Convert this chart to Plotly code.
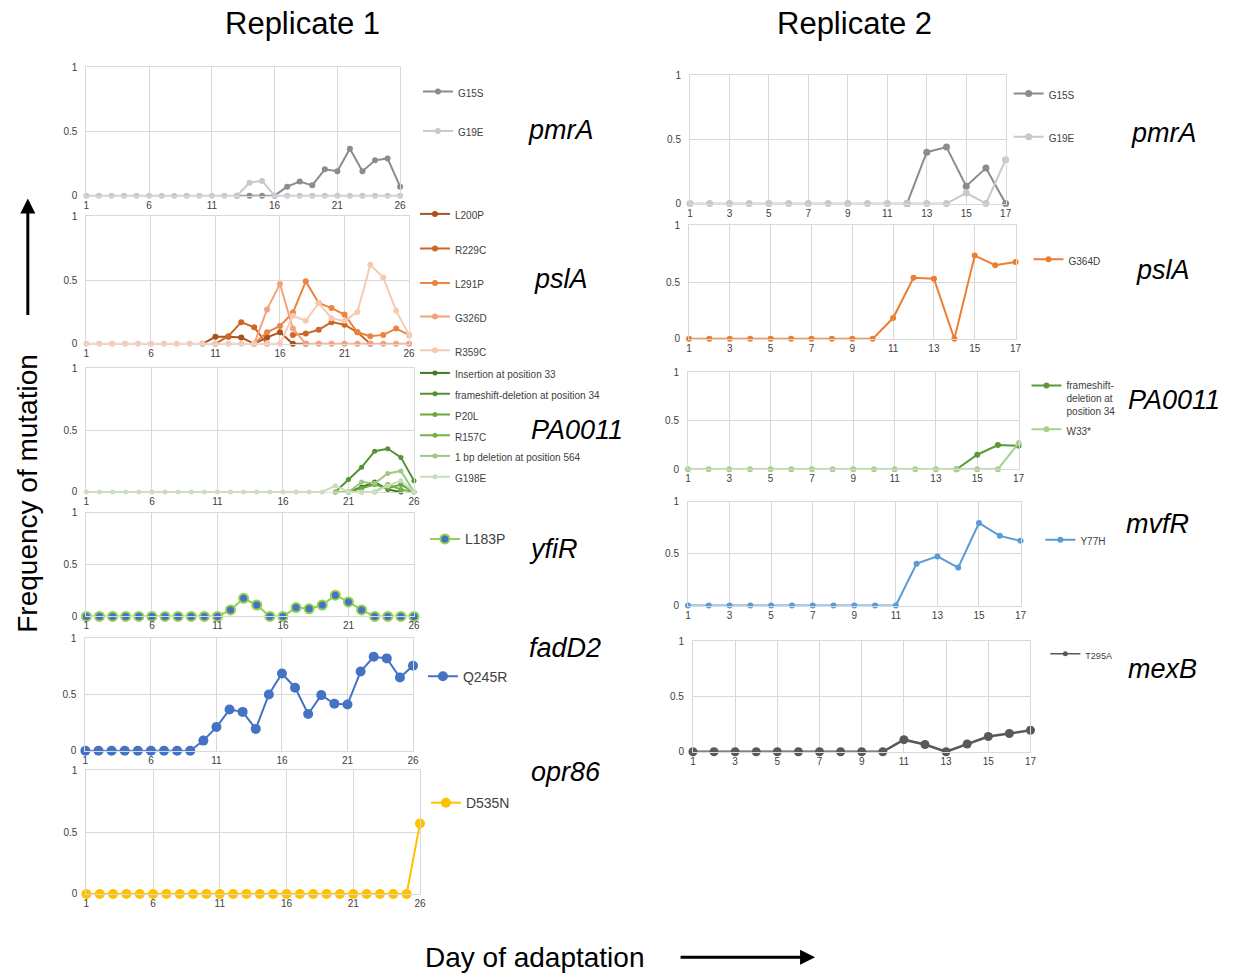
import plotly.graph_objects as go

W, H = 1238, 977
N = None

# ---------------- data ----------------
days_r1 = list(range(1, 27))
days_r2 = list(range(1, 18))
xticks_r1 = [1, 6, 11, 16, 21, 26]
xticks_r2 = [1, 3, 5, 7, 9, 11, 13, 15, 17]

# Replicate 1
r1_pmrA_G15S = [N]*12 + [0, 0, 0, 0, 0.07, 0.11, 0.08, 0.205, 0.19, 0.365, 0.19, 0.275, 0.29, 0.07]
r1_pmrA_G19E = [0]*13 + [0.10, 0.115, 0] + [0]*10

r1_pslA_L200P = [N]*9 + [0, 0.055, 0.055, 0.05, 0, 0.05, 0.09, 0, 0] + [N]*8
r1_pslA_R229C = [N]*10 + [0, 0.06, 0.17, 0.13, 0, N, 0.07, 0.08, 0.11, 0.17, 0.15, 0.09, 0.0] + [N]*3
r1_pslA_L291P = [N]*13 + [0, 0.09, 0.14, 0.245, 0.49, 0.32, 0.28, 0.23, 0.09, 0.06, 0.07, 0.12, 0.07]
r1_pslA_G326D = [N]*13 + [0, 0.27, 0.47, 0.12, 0, 0, 0, 0, 0, 0, 0, 0, 0]
r1_pslA_R359C = [0]*16 + [0.22, 0.18, 0.32, 0.20, 0.18, 0.25, 0.62, 0.52, 0.26, 0.07]

r1_PA_ins33 = [N]*20 + [0, 0.04, 0.08, 0.02, 0.0, N]
r1_PA_fs34 = [N]*19 + [0, 0.10, 0.20, 0.33, 0.35, 0.28, 0.09]
r1_PA_P20L = [N]*20 + [0, 0.03, 0.06, 0.03, 0.06, 0.0]
r1_PA_R157C = [N]*21 + [0, 0.0, 0.06, 0.02, 0.0]
r1_PA_del564 = [N]*19 + [0, 0, 0.08, 0.07, 0.15, 0.17, 0.0]
r1_PA_G198E = [0]*19 + [0.05, 0, 0, 0, 0.05, 0.09, 0.0]

r1_yfiR_L183P = [0]*11 + [0.063, 0.174, 0.11, 0, 0, 0.085, 0.073, 0.11, 0.205, 0.14, 0.063, 0, 0, 0, 0]
r1_fadD2_Q245R = [0]*9 + [0.09, 0.21, 0.366, 0.345, 0.194, 0.5, 0.686, 0.56, 0.326, 0.494, 0.417,
                          0.41, 0.703, 0.834, 0.82, 0.65, 0.754]
r1_opr86_D535N = [0]*25 + [0.57]

# Replicate 2
r2_pmrA_G15S = [N]*11 + [0, 0.40, 0.44, 0.135, 0.277, 0]
r2_pmrA_G19E = [0]*14 + [0.083, 0, 0.342]
r2_pslA_G364D = [0]*10 + [0.183, 0.538, 0.529, 0, 0.733, 0.648, 0.677]
r2_PA_fs34 = [N]*13 + [0, 0.15, 0.25, 0.243]
r2_PA_W33 = [0]*16 + [0.27]
r2_mvfR_Y77H = [0]*11 + [0.404, 0.474, 0.366, 0.796, 0.672, 0.624]
r2_mexB_T295A = [0]*10 + [0.109, 0.065, 0, 0.07, 0.138, 0.165, 0.194]

# ---------------- layout spec ----------------
# panel: (days, xticks, box px (left,right,top,bottom), gene label, label pos px, series)
# series: (name, values, line colour, marker colour, marker size, line width,
#          legend px (x,y), legend font, marker line colour, legend marker size, legend line width)
panels = [
    (days_r1, xticks_r1, (84, 400, 62, 192), "pmrA", (562, 126), [
        ("G15S", r1_pmrA_G15S, "#8c8c8c", "#8c8c8c", 6, 2, (423, 90), 10, None, 6, 2),
        ("G19E", r1_pmrA_G19E, "#c9c9c9", "#c9c9c9", 6, 2, (423, 130), 10, None, 6, 2),
    ]),
    (days_r1, xticks_r1, (84, 409, 213, 342), "pslA", (562, 276), [
        ("L200P", r1_pslA_L200P, "#a8521c", "#a8521c", 6, 2, (420, 214), 10, None, 6, 2),
        ("R229C", r1_pslA_R229C, "#cd6726", "#cd6726", 6, 2, (420, 249), 10, None, 6, 2),
        ("L291P", r1_pslA_L291P, "#ee8340", "#ee8340", 6, 2, (420, 284), 10, None, 6, 2),
        ("G326D", r1_pslA_G326D, "#f2a27c", "#f2a27c", 6, 2, (420, 318), 10, None, 6, 2),
        ("R359C", r1_pslA_R359C, "#f8c9b1", "#f8c9b1", 6, 2, (420, 352), 10, None, 6, 2),
    ]),
    (days_r1, xticks_r1, (84, 414, 367, 492), "PA0011", (578, 429), [
        ("Insertion at position 33", r1_PA_ins33, "#3f7a22", "#3f7a22", 5, 2, (420, 375), 10, None, 5, 2),
        ("frameshift-deletion at position 34", r1_PA_fs34, "#559233", "#559233", 5, 2, (420, 396), 10, None, 5, 2),
        ("P20L", r1_PA_P20L, "#68a83d", "#68a83d", 5, 2, (420, 417), 10, None, 5, 2),
        ("R157C", r1_PA_R157C, "#74b34a", "#74b34a", 5, 2, (420, 438), 10, None, 5, 2),
        ("1 bp deletion at position 564", r1_PA_del564, "#9fc783", "#9fc783", 5, 2, (420, 459), 10, None, 5, 2),
        ("G198E", r1_PA_G198E, "#c6dfb6", "#c6dfb6", 5, 2, (420, 480), 10, None, 5, 2),
    ]),
    (days_r1, xticks_r1, (84, 414, 513, 618), "yfiR", (555, 550), [
        ("L183P", r1_yfiR_L183P, "#92d050", "#4472c4", 9, 2, (430, 540), 14, "#92d050", 9, 2),
    ]),
    (days_r1, xticks_r1, (83, 413, 640, 754), "fadD2", (566, 650), [
        ("Q245R", r1_fadD2_Q245R, "#4472c4", "#4472c4", 10, 2, (428, 679), 14, None, 10, 2),
    ]),
    (days_r1, xticks_r1, (84, 420, 774, 899), "opr86", (567, 776), [
        ("D535N", r1_opr86_D535N, "#ffc000", "#ffc000", 10, 2, (431, 807), 14, None, 10, 2),
    ]),
    (days_r2, xticks_r2, (692, 1010, 70, 200), "pmrA", (1169, 129), [
        ("G15S", r2_pmrA_G15S, "#8c8c8c", "#8c8c8c", 7, 2, (1018, 92), 10, None, 7, 2),
        ("G19E", r2_pmrA_G19E, "#c8c8c8", "#c8c8c8", 7, 2, (1018, 136), 10, None, 7, 2),
    ]),
    (days_r2, xticks_r2, (691, 1020, 222, 337), "pslA", (1168, 267), [
        ("G364D", r2_pslA_G364D, "#ed7d31", "#ed7d31", 6, 2, (1038, 260), 10, None, 6, 2),
    ]),
    (days_r2, xticks_r2, (690, 1023, 371, 469), "PA0011", (1180, 399), [
        ("frameshift-<br>deletion at<br>position 34", r2_PA_fs34, "#5a9a38", "#5a9a38", 6, 2, (1036, 385), 10, None, 6, 2),
        ("W33*", r2_PA_W33, "#a9d18e", "#a9d18e", 6, 2, (1036, 432), 10, None, 6, 2),
    ]),
    (days_r2, xticks_r2, (690, 1025, 502, 607), "mvfR", (1163, 524), [
        ("Y77H", r2_mvfR_Y77H, "#5b9bd5", "#5b9bd5", 6, 2, (1050, 544), 10, None, 6, 2),
    ]),
    (days_r2, xticks_r2, (695, 1035, 643, 755), "mexB", (1168, 671), [
        ("T295A", r2_mexB_T295A, "#595959", "#595959", 9, 2.5, (1055, 660), 9, None, 5, 1.5),
    ]),
]

FONT = "Liberation Sans, Arial, sans-serif"
fig = go.Figure()
layout = dict(
    width=W, height=H, margin=dict(l=0, r=0, t=0, b=0),
    paper_bgcolor="white", plot_bgcolor="white", showlegend=True,
    font=dict(family=FONT, color="#404040"),
)
annotations = []
leg_i = 0
for pi, (days, xt, (l, r, t, b), gene, (gx, gy), series) in enumerate(panels):
    k = "" if pi == 0 else str(pi + 1)
    layout["xaxis" + k] = dict(
        domain=[l / W, r / W], range=[days[0], days[-1]], anchor="y" + k,
        tickvals=xt, showgrid=True, gridcolor="#d9d9d9", gridwidth=1,
        showline=True, linecolor="#d9d9d9", mirror=True, zeroline=False,
        ticks="outside", ticklen=0, tickcolor="rgba(0,0,0,0)",
        tickfont=dict(size=10, color="#404040", family=FONT), fixedrange=True,
    )
    layout["yaxis" + k] = dict(
        domain=[1 - b / H, 1 - t / H], range=[0, 1], anchor="x" + k,
        tickvals=[0, 0.5, 1], ticktext=["0", "0.5", "1"], showgrid=True,
        gridcolor="#d9d9d9", gridwidth=1, showline=True, linecolor="#d9d9d9",
        mirror=True, zeroline=False, ticks="outside", ticklen=6,
        tickcolor="rgba(0,0,0,0)", tickfont=dict(size=10, color="#404040", family=FONT),
        fixedrange=True,
    )
    annotations.append(dict(text="<i>" + gene + "</i>", x=gx / W, y=1 - gy / H,
                            xref="paper", yref="paper", showarrow=False,
                            xanchor="center", yanchor="middle",
                            font=dict(size=27, color="black", family=FONT)))
    for (name, vals, lc, mc, ms, lw, (lx, ly), lfs, mlc, lms, llw) in series:
        leg_i += 1
        lk = "legend" if leg_i == 1 else "legend" + str(leg_i)
        mline = dict(color=mlc if mlc else mc, width=2 if mlc else 0)
        proxy = (lms != ms) or (llw != lw)
        fig.add_trace(go.Scatter(
            x=days, y=vals, name=name, mode="lines+markers",
            line=dict(color=lc, width=lw), connectgaps=False,
            marker=dict(color=mc, size=ms, line=mline),
            xaxis="x" + k, yaxis="y" + k, legend=lk, cliponaxis=False,
            hoverinfo="skip", showlegend=not proxy,
        ))
        if proxy:
            # legend-only entry with the smaller legend symbol
            fig.add_trace(go.Scatter(
                x=[None], y=[None], name=name, mode="lines+markers",
                line=dict(color=lc, width=llw), marker=dict(color=mc, size=lms, line=mline),
                xaxis="x" + k, yaxis="y" + k, legend=lk, hoverinfo="skip",
            ))
        multiline = "<br>" in name
        if multiline:
            ypos, yanc = ly - 14, "top"
        else:
            ypos, yanc = ly - (2 if lfs <= 10 else 0), "middle"
        layout[lk] = dict(
            x=(lx - 5) / W, y=1 - ypos / H, xref="paper", yref="paper",
            xanchor="left", yanchor=yanc,
            valign="top", bgcolor="rgba(0,0,0,0)", borderwidth=0,
            font=dict(size=lfs, color="#404040", family=FONT), itemwidth=30,
            tracegroupgap=0,
        )

# titles
annotations += [
    dict(text="Replicate 1", x=302 / W, y=1 - 18 / H, xref="paper", yref="paper", showarrow=False,
         xanchor="center", yanchor="middle", font=dict(size=31, color="black", family=FONT)),
    dict(text="Replicate 2", x=858 / W, y=1 - 18 / H, xref="paper", yref="paper", showarrow=False,
         xanchor="center", yanchor="middle", font=dict(size=31, color="black", family=FONT)),
    dict(text="Frequency of mutation", x=25 / W, y=1 - 493 / H, xref="paper", yref="paper",
         showarrow=False, textangle=-90, xanchor="center", yanchor="middle",
         font=dict(size=28, color="black", family=FONT)),
    dict(text="Day of adaptation", x=536 / W, y=1 - 963 / H, xref="paper", yref="paper",
         showarrow=False, xanchor="center", yanchor="middle",
         font=dict(size=28, color="black", family=FONT)),
    # arrows
    dict(text="", x=25 / W, y=1 - 195 / H, xref="paper", yref="paper", showarrow=True,
         ax=0, ay=118, arrowhead=2, arrowsize=1, arrowwidth=3, arrowcolor="black"),
    dict(text="", x=818 / W, y=1 - 963 / H, xref="paper", yref="paper", showarrow=True,
         ax=-136, ay=0, arrowhead=2, arrowsize=1, arrowwidth=3, arrowcolor="black"),
]
layout["annotations"] = annotations
fig.update_layout(**layout)
fig.write_html("out.html")
